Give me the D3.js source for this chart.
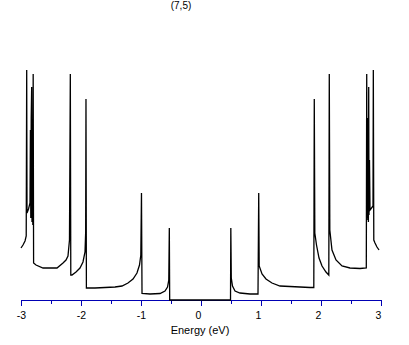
<!DOCTYPE html>
<html>
<head>
<meta charset="utf-8">
<script src="https://cdn.jsdelivr.net/npm/d3@7"></script>
<style>
  body { margin: 0; background: #fff; }
  text { font-family: "Liberation Sans", Arial, sans-serif; }
</style>
</head>
<body>
<div id="chart"></div>
<script>
// density of states of the (7,5) tube (arbitrary units)
var energy = [
    -3.000, -2.967, -2.933, -2.913, -2.905, -2.900, -2.875, -2.850,
    -2.843, -2.837, -2.830, -2.822, -2.817, -2.810, -2.803, -2.797,
    -2.790, -2.750, -2.633, -2.400, -2.300, -2.250, -2.217, -2.192,
    -2.178, -2.170, -2.150, -2.083, -2.017, -1.967, -1.933, -1.922,
    -1.917, -1.910, -1.767, -1.600, -1.433, -1.317, -1.217, -1.133,
    -1.067, -1.025, -1.003, -0.992, -0.983, -0.850, -0.683, -0.600,
    -0.558, -0.537, -0.528, -0.522,
    0.492, 0.497, 0.505, 0.525, 0.567, 0.650, 0.817, 0.950,
    0.962, 0.970, 1.017, 1.083, 1.183, 1.317, 1.483, 1.650,
    1.817, 1.880, 1.888, 1.897, 1.925, 1.967, 2.017, 2.083,
    2.130, 2.138, 2.147, 2.183, 2.250, 2.350, 2.483, 2.650,
    2.755, 2.762, 2.767, 2.772, 2.777, 2.783, 2.790, 2.795,
    2.800, 2.808, 2.817, 2.842, 2.867, 2.872, 2.880, 2.900,
    2.933, 2.967
];
var dos = [
    0.52, 0.55, 0.59, 0.64, 2.30, 0.87, 0.91, 0.97,
    1.70, 0.82, 1.82, 2.13, 0.78, 1.80, 0.75, 2.26,
    0.37, 0.35, 0.32, 0.32, 0.37, 0.40, 0.44, 0.60,
    2.26, 0.25, 0.25, 0.28, 0.32, 0.38, 0.48, 0.68,
    2.01, 0.12, 0.12, 0.125, 0.13, 0.14, 0.17, 0.21,
    0.27, 0.35, 0.45, 1.07, 0.065, 0.06, 0.065, 0.09,
    0.13, 0.20, 0.72, 0.00,
    0.00, 0.72, 0.22, 0.14, 0.09, 0.07, 0.06, 0.06,
    1.07, 0.34, 0.26, 0.21, 0.17, 0.14, 0.135, 0.13,
    0.125, 0.125, 2.01, 0.67, 0.55, 0.42, 0.34, 0.28,
    0.25, 2.26, 0.70, 0.50, 0.40, 0.34, 0.32, 0.315,
    0.32, 2.26, 0.80, 1.82, 0.82, 1.75, 0.78, 2.13,
    0.85, 1.40, 0.90, 0.92, 0.94, 2.30, 0.60, 0.57,
    0.53, 0.50
];
var majorTicks = [-3, -2, -1, 0, 1, 2, 3];
var minorTicks = [-2.5, -1.5, -0.5, 0.5, 1.5, 2.5];
var title = "(7,5)";
var xLabel = "Energy (eV)";

var width = 409;
var height = 345;
var axisColor = "#0000b4";

var svg = d3.select("#chart")
    .append("svg")
    .attr("width", width)
    .attr("height", height);

var x = d3.scaleLinear().domain([-3, 3]).range([21, 381]);
var y = d3.scaleLinear().domain([0, 2.5]).range([300, 50]);

// minor ticks first, then the labelled axis on top
svg.append("g")
    .attr("transform", "translate(0,300)")
    .attr("color", axisColor)
    .call(d3.axisBottom(x).tickValues(minorTicks).tickSize(4).tickSizeOuter(0).tickFormat(""))
    .call(function (g) { g.select(".domain").remove(); });

var axis = svg.append("g")
    .attr("transform", "translate(0,300)")
    .attr("color", axisColor)
    .call(d3.axisBottom(x).tickValues(majorTicks).tickSize(6).tickSizeOuter(0).tickPadding(6)
        .tickFormat(function (d) { return d < 0 ? "-" + Math.abs(d) : d; }));

// labels without a minus sit a little left of their tick, as in the original
axis.selectAll("text")
    .attr("fill", "#000")
    .attr("dx", function (d) { return d < 0 ? 0 : -3; })
    .style("font-size", "10.5px");

var points = energy.map(function (e, i) { return {e: e, v: dos[i]}; });

var line = d3.line()
    .x(function (d) { return x(d.e); })
    .y(function (d) { return y(d.v); });

svg.append("path")
    .datum(points)
    .attr("fill", "none")
    .attr("stroke", "#000")
    .attr("stroke-width", 1.3)
    .attr("stroke-linejoin", "miter")
    .attr("d", line);

svg.append("text")
    .attr("x", 181)
    .attr("y", 9)
    .attr("text-anchor", "middle")
    .style("font-size", "10px")
    .text(title);

svg.append("text")
    .attr("x", 200)
    .attr("y", 334)
    .attr("text-anchor", "middle")
    .style("font-size", "11px")
    .text(xLabel);
</script>
</body>
</html>
